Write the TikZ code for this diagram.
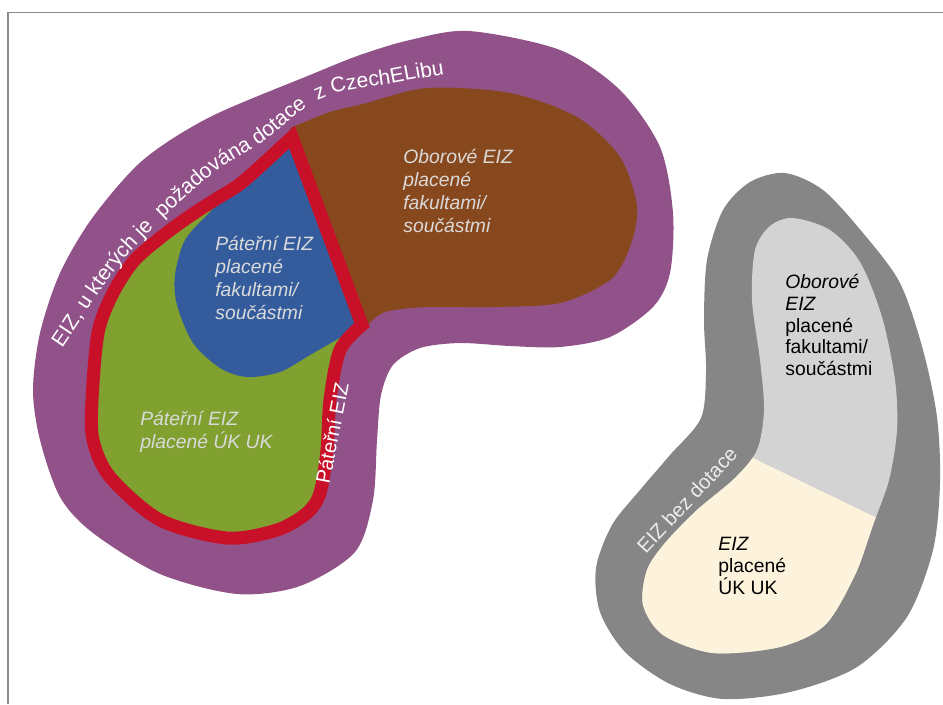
\documentclass[tikz,border=0pt]{standalone}
\usepackage{fontspec}
\setmainfont{Liberation Sans}
\usetikzlibrary{decorations.text}

\definecolor{eizpurple}{RGB}{145,82,137}
\definecolor{eizbrown}{RGB}{136,72,30}
\definecolor{eizblue}{RGB}{52,92,156}
\definecolor{eizgreen}{RGB}{128,160,48}
\definecolor{eizred}{RGB}{200,16,40}
\definecolor{eizgray}{RGB}{134,134,134}
\definecolor{eizlight}{RGB}{211,211,211}
\definecolor{eizcream}{RGB}{253,243,220}
\definecolor{lbltxt}{RGB}{218,218,218}
\definecolor{framegray}{RGB}{137,137,137}

% red border of the backbone part
\def\redloop{plot[smooth] coordinates {(362,325) (340,350) (330,400) (327,450) (320,493) (307,513) (277,530) (227,538) (160,520) (110,477) (93,440) (92,400) (98,333) (112,295) (133,262) (160,238) (187,218) (213,201) (240,184) (265,162) (292,137)} -- cycle}

\begin{document}
\begin{tikzpicture}[x=0.02cm,y=-0.02cm,
	lbl/.style={align=left,anchor=west,inner sep=0pt,font=\fontsize{11}{13}\selectfont\itshape,text=lbltxt},
	darklbl/.style={align=left,anchor=west,inner sep=0pt,font=\fontsize{11}{12.4}\selectfont,text=black}]
	\useasboundingbox (0,0) rectangle (943,704);
	\draw[framegray, line width=1.1pt] (8,704) -- (8,12.5) -- (943,12.5);

	% left shape
	\fill[eizpurple] plot[smooth cycle] coordinates {(469,31) (560,50) (620,90) (660,147) (673,213) (670,273) (653,307) (610,337) (560,347) (510,346) (460,343) (420,348) (393,365) (381,395) (377,440) (373,500) (355,552) (300,586) (237,594) (160,574) (93,533) (60,497) (40,440) (33,390) (40,333) (60,273) (93,217) (143,160) (210,117) (310,75) (360,55) (410,40)};
	\fill[eizbrown] plot[smooth] coordinates {(290,128) (330,112) (363,104) (427,88) (510,93) (577,117) (620,157) (637,207) (630,247) (610,280) (560,303) (493,307) (427,307) (385,312) (368,325)} -- cycle;
	\fill[eizgreen] \redloop;
	\begin{scope}
		\clip \redloop;
		\fill[eizblue] (300,90) -- (420,330) -- plot[smooth] coordinates {(350,332) (310,355) (280,372) (247,377) (220,368) (193,343) (177,305) (175,275) (185,240) (209,213) (235,188)} -- (250,110) -- cycle;
	\end{scope}
	\draw[eizred, line width=7.4pt, line join=miter] \redloop;

	% band text
	\path[decorate, decoration={text along path, text color=white,
		text={|\fontsize{12}{14}\selectfont|EIZ, u kterých je~ požadována dotace~ z CzechELibu}}]
		(62,348) .. controls (83,318) and (101,286) .. (125,258)
		.. controls (149,230) and (182,200) .. (205,180)
		.. controls (228,160) and (246,154) .. (265,140)
		.. controls (285,126) and (300,108) .. (322,98)
		.. controls (345,88) and (375,87) .. (400,82)
		.. controls (425,77) and (447,74) .. (470,70);

	\node[lbl] (oborove) at (403,191) {Oborové EIZ\\placené\\fakultami/\\součástmi};
	\node[lbl] (paterfak) at (215,278) {Páteřní EIZ\\placené\\fakultami/\\součástmi};
	\node[lbl] (pateruk) at (140,432) {Páteřní EIZ\\placené ÚK UK};
	\node[rotate=79, text=white, font=\fontsize{11.5}{13}\selectfont, inner sep=0pt] (pater) at (332,433) {Páteřní EIZ};

	% right shape
	\fill[eizgray] plot[smooth cycle] coordinates {(785,173) (823,190) (863,233) (900,283) (923,350) (937,417) (940,483) (933,550) (907,617) (857,667) (790,692) (723,699) (670,684) (625,652) (600,612) (596,568) (612,525) (640,490) (670,455) (701,418) (706,370) (704,320) (707,260) (723,210) (750,182)};
	\def\innerloop{plot[smooth cycle] coordinates {(793,218) (830,230) (860,262) (882,317) (895,380) (897,430) (889,480) (873,525) (855,575) (825,625) (780,647) (713,653) (663,635) (643,605) (647,570) (665,543) (697,510) (735,478) (757,450) (764,410) (760,360) (752,300) (755,250) (770,226)}}
	\fill[eizlight] \innerloop;
	\begin{scope}
		\clip \innerloop;
		\fill[eizcream] (600,384) -- (943,550) -- (943,704) -- (600,704) -- cycle;
	\end{scope}

	\node[darklbl] (oborovebez) at (785,325) {\textit{Oborové}\\\textit{EIZ}\\placené\\fakultami/\\součástmi};
	\node[darklbl] (ukbez) at (718,566) {\textit{EIZ}\\placené\\ÚK UK};
	\node[rotate=47, text=white!93!black, font=\fontsize{11.5}{13}\selectfont, inner sep=0pt] (bez) at (687,500) {EIZ bez dotace};
\end{tikzpicture}
\end{document}
